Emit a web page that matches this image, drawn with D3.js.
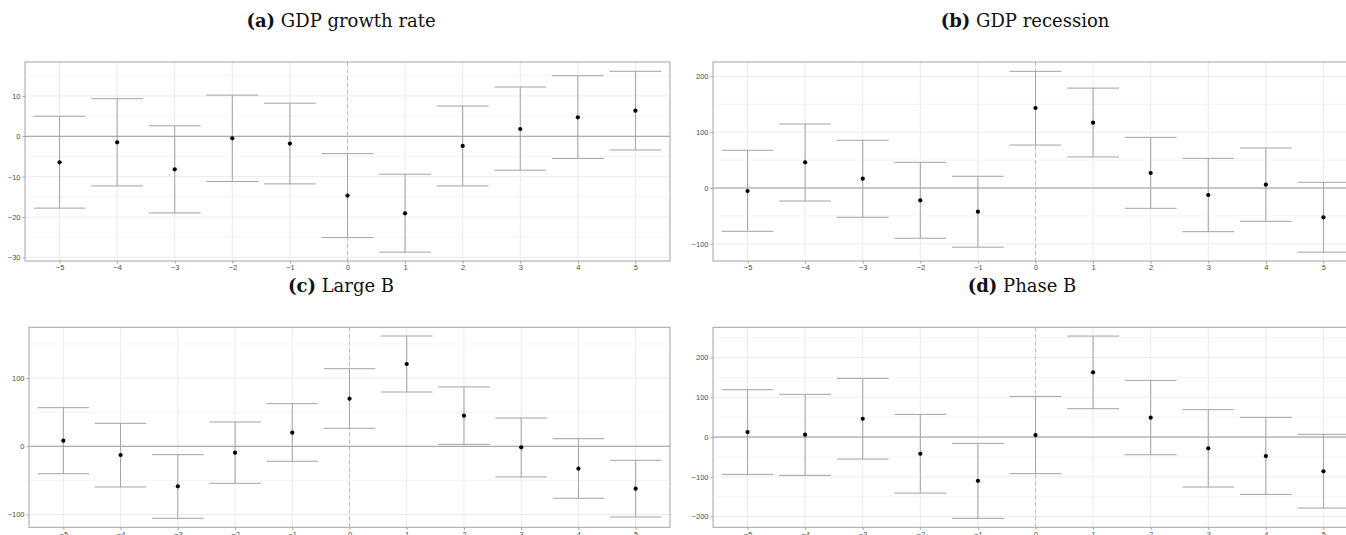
<!DOCTYPE html>
<html><head><meta charset="utf-8">
<script src="https://cdn.jsdelivr.net/npm/d3@7"></script>
<style>body{margin:0;background:#fff;overflow:hidden}</style></head>
<body>
<svg id="chart" width="1346" height="535"></svg>
<script>
// ---- data ----
const lags = [-5, -4, -3, -2, -1, 0, 1, 2, 3, 4, 5];

const growthEst = [-6.45, -1.5, -8.2, -0.5, -1.8, -14.7, -19.1, -2.4, 1.8, 4.7, 6.35];
const growthLo  = [-17.8, -12.3, -19.0, -11.2, -11.8, -25.1, -28.7, -12.3, -8.4, -5.5, -3.4];
const growthHi  = [4.96, 9.3, 2.6, 10.2, 8.2, -4.3, -9.4, 7.5, 12.2, 15.0, 16.1];

const recessionEst = [-5.4, 46, 16.7, -22, -42.4, 143.4, 117, 26.9, -12.5, 6, -52.5];
const recessionLo  = [-77.6, -23.3, -52.5, -90, -106, 77, 55.6, -36.4, -78.3, -59.7, -115];
const recessionHi  = [67.6, 114.7, 85.5, 46, 21, 209, 179, 90.8, 53.2, 71.7, 10.2];

const largeBEst = [8.2, -12.8, -58.7, -9.4, 20, 69.8, 120.7, 44.9, -1.5, -32.8, -62.2];
const largeBLo  = [-40.2, -59.7, -105.6, -54.3, -22, 26.4, 79.6, 2.9, -45, -76.2, -103.7];
const largeBHi  = [56.6, 33.7, -12.3, 35.6, 62.5, 113.8, 161.7, 87, 41.5, 11.1, -20.5];

const phaseBEst = [12.6, 5.9, 46, -42, -110, 5, 162.7, 48.6, -28.5, -47.8, -86.3];
const phaseBLo  = [-93.9, -96.4, -55.3, -141, -204.6, -92.2, 71.3, -44.5, -125.8, -144.2, -178.6];
const phaseBHi  = [119, 107.4, 147.6, 57, -15.9, 102.3, 254, 142.6, 68.8, 49.5, 6.8];

const panelLabels = ["(a)", "(b)", "(c)", "(d)"];
const panelTitles = ["GDP growth rate", "GDP recession", "Large B", "Phase B"];
const yTicksA = [-30, -20, -10, 0, 10];
const yTicksB = [-100, 0, 100, 200];
const yTicksC = [-100, 0, 100];
const yTicksD = [-200, -100, 0, 100, 200];

// ---- layout ----
const panels = [
  {est: growthEst, lo: growthLo, hi: growthHi, ticks: yTicksA, minor: [-25,-15,-5,5,15],
   ydom: [-30.9, 18.4], box: {x0: 25, x1: 670, y0: 62, y1: 261}, tx: 341, ty: 27},
  {est: recessionEst, lo: recessionLo, hi: recessionHi, ticks: yTicksB, minor: [-50,50,150],
   ydom: [-130.8, 225.8], box: {x0: 713, x1: 1358, y0: 62, y1: 261}, tx: 1025, ty: 27},
  {est: largeBEst, lo: largeBLo, hi: largeBHi, ticks: yTicksC, minor: [-50,50,150],
   ydom: [-118.8, 174.5], box: {x0: 29, x1: 670, y0: 327.3, y1: 527.3}, tx: 341, ty: 292},
  {est: phaseBEst, lo: phaseBLo, hi: phaseBHi, ticks: yTicksD, minor: [-150,-50,50,150,250],
   ydom: [-227, 276], box: {x0: 713, x1: 1358, y0: 327.3, y1: 527.3}, tx: 1022, ty: 292}
];

const svg = d3.select("#chart");
const AX = "#a3a3a3";

panels.forEach((p, i) => {
  const b = p.box;
  const x = d3.scaleLinear().domain([-5.6, 5.6]).range([b.x0, b.x1]);
  const y = d3.scaleLinear().domain(p.ydom).range([b.y1, b.y0]);
  const g = svg.append("g");
  const clipId = "clip" + i;
  svg.append("clipPath").attr("id", clipId).append("rect")
    .attr("x", b.x0).attr("y", b.y0).attr("width", b.x1 - b.x0).attr("height", b.y1 - b.y0);
  const inner = g.append("g").attr("clip-path", `url(#${clipId})`);

  // minor grid
  inner.selectAll(".ymin").data(p.minor).join("line")
    .attr("x1", b.x0).attr("x2", b.x1).attr("y1", d => y(d)).attr("y2", d => y(d))
    .attr("stroke", "#f4f4f4").attr("stroke-width", 1);
  // major grid
  inner.selectAll(".ymaj").data(p.ticks).join("line")
    .attr("x1", b.x0).attr("x2", b.x1).attr("y1", d => y(d)).attr("y2", d => y(d))
    .attr("stroke", "#ebebeb").attr("stroke-width", 1);
  inner.selectAll(".xmaj").data(lags).join("line")
    .attr("x1", d => x(d)).attr("x2", d => x(d)).attr("y1", b.y0).attr("y2", b.y1)
    .attr("stroke", "#ebebeb").attr("stroke-width", 1);

  // reference lines
  inner.append("line").attr("x1", b.x0).attr("x2", b.x1).attr("y1", y(0)).attr("y2", y(0))
    .attr("stroke", "#9a9a9a").attr("stroke-width", 1);
  inner.append("line").attr("x1", x(0)).attr("x2", x(0)).attr("y1", b.y0).attr("y2", b.y1)
    .attr("stroke", "#bdbdbd").attr("stroke-width", 1).attr("stroke-dasharray", "4,3");

  // error bars
  const half = 0.45;
  const eb = inner.selectAll(".eb").data(lags).join("g");
  eb.append("line").attr("x1", d => x(d)).attr("x2", d => x(d))
    .attr("y1", (d, j) => y(p.lo[j])).attr("y2", (d, j) => y(p.hi[j]))
    .attr("stroke", AX).attr("stroke-width", 1);
  eb.append("line").attr("x1", d => x(d - half)).attr("x2", d => x(d + half))
    .attr("y1", (d, j) => y(p.hi[j])).attr("y2", (d, j) => y(p.hi[j]))
    .attr("stroke", AX).attr("stroke-width", 1);
  eb.append("line").attr("x1", d => x(d - half)).attr("x2", d => x(d + half))
    .attr("y1", (d, j) => y(p.lo[j])).attr("y2", (d, j) => y(p.lo[j]))
    .attr("stroke", AX).attr("stroke-width", 1);
  inner.selectAll(".pt").data(lags).join("circle")
    .attr("cx", d => x(d)).attr("cy", (d, j) => y(p.est[j])).attr("r", 2.1).attr("fill", "#000");

  // border
  g.append("rect").attr("x", b.x0).attr("y", b.y0).attr("width", b.x1 - b.x0).attr("height", b.y1 - b.y0)
    .attr("fill", "none").attr("stroke", AX).attr("stroke-width", 1);

  // axes
  const yAxis = d3.axisLeft(y).tickValues(p.ticks).tickSize(2.5).tickPadding(2).tickFormat(d3.format("d"));
  const ya = g.append("g").attr("transform", `translate(${b.x0},0)`).call(yAxis);
  const xAxis = d3.axisBottom(x).tickValues(lags).tickSize(2.5).tickPadding(1.5).tickFormat(d3.format("d"));
  const xa = g.append("g").attr("transform", `translate(0,${b.y1})`).call(xAxis);
  [ya, xa].forEach(a => {
    a.select(".domain").remove();
    a.selectAll(".tick line").attr("stroke", AX);
    a.selectAll(".tick text").attr("fill", "#4d4d4d")
      .style("font-family", "'Liberation Sans', Arial, sans-serif").style("font-size", "7.5px");
  });

  // title
  const t = svg.append("text").attr("x", p.tx).attr("y", p.ty).attr("text-anchor", "middle")
    .style("font-family", "'DejaVu Serif', serif").style("font-size", "18px").attr("fill", "#111");
  t.append("tspan").style("font-weight", "bold").text(panelLabels[i]);
  t.append("tspan").text(" " + panelTitles[i]);
});
</script>
</body></html>
